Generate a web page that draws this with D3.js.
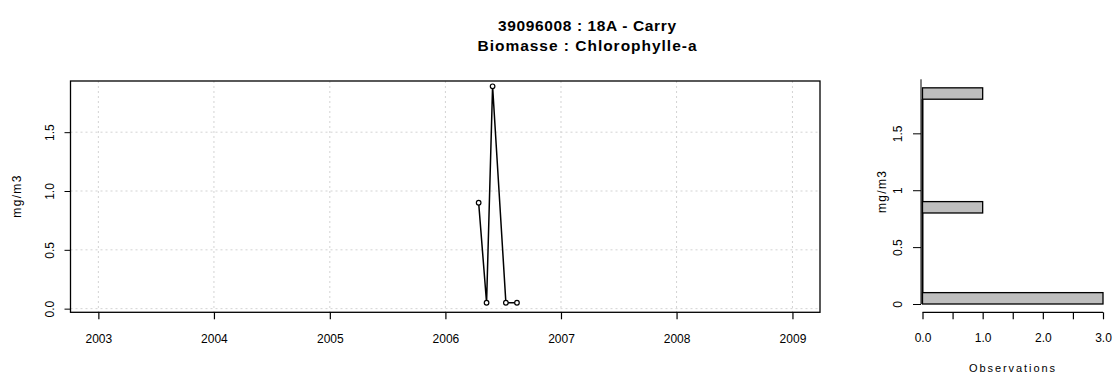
<!DOCTYPE html>
<html><head><meta charset="utf-8">
<script src="https://cdn.jsdelivr.net/npm/d3@7"></script>
<style>body{margin:0;background:#fff}svg{display:block;font-family:"Liberation Sans",Arial,sans-serif}</style>
</head><body><svg id="c" width="1115" height="378"></svg>
<script>
const titleLines = ["39096008 : 18A - Carry", "Biomasse : Chlorophylle-a"];
const sampleDates = ["2006-04-16", "2006-05-11", "2006-05-30", "2006-07-11", "2006-08-15"];
const sampleValues = [0.9, 0.05, 1.89, 0.05, 0.05];
const yearTicks = [2003, 2004, 2005, 2006, 2007, 2008, 2009];
const yTicks = [0, 0.5, 1.0, 1.5];
const yTickLabels = ["0.0", "0.5", "1.0", "1.5"];
const binLow = [0, 0.8, 1.8];
const binHigh = [0.1, 0.9, 1.9];
const binCounts = [3, 1, 1];
const histYTicks = [0, 0.5, 1, 1.5];
const histYTickLabels = ["0", "0.5", "1", "1.5"];
const histXTicks = [0, 0.5, 1, 1.5, 2, 2.5, 3];
const histXLabels = ["0.0", "1.0", "2.0", "3.0"];
const yLabel = "mg/m3";
const histXLabel = "Observations";

const svg = d3.select("#c");
const parse = d3.timeParse("%Y-%m-%d");
const FF = "Liberation Sans, Arial, sans-serif";

// Title
const titleWidths = [178, 219];
svg.append("g").selectAll("text").data(titleLines).join("text")
  .attr("x", 587).attr("y", (d, i) => 30.5 + i * 20)
  .attr("text-anchor", "middle").attr("font-weight", "bold").attr("font-size", 15.5)
  .attr("textLength", (d, i) => titleWidths[i]).attr("lengthAdjust", "spacing")
  .text(d => d);

// Main panel
const L = 70.5, R = 820, T = 81, B = 312.3;
const x = d3.scaleTime().domain([parse("2002-10-05"), parse("2009-03-29")]).range([L, R]);
const y = d3.scaleLinear().domain([-0.031, 1.935]).range([B, T]);
const main = svg.append("g");
const grid = main.append("g").attr("stroke", "#d3d3d3").attr("stroke-dasharray", "2,3").attr("stroke-width", 1);
grid.selectAll(".gx").data(yearTicks).join("line")
  .attr("x1", d => x(new Date(d, 0, 1))).attr("x2", d => x(new Date(d, 0, 1)))
  .attr("y1", T).attr("y2", B);
grid.selectAll(".gy").data(yTicks).join("line")
  .attr("x1", L).attr("x2", R).attr("y1", d => y(d)).attr("y2", d => y(d));

const xAxis = d3.axisBottom(x).tickValues(yearTicks.map(d => new Date(d, 0, 1)))
  .tickFormat(d3.timeFormat("%Y")).tickSize(7).tickPadding(15);
const gx = main.append("g").attr("transform", `translate(0,${B})`).call(xAxis);
gx.select(".domain").remove();
gx.selectAll("text").attr("font-size", 12).attr("font-family", FF);
gx.selectAll("line").attr("stroke-width", 1.2);

const yAxis = d3.axisLeft(y).tickValues(yTicks).tickFormat((d, i) => yTickLabels[i]).tickSize(6);
const gy = main.append("g").attr("transform", `translate(${L},0)`).call(yAxis);
gy.select(".domain").remove();
gy.selectAll("text").attr("font-size", 12).attr("font-family", FF)
  .attr("text-anchor", "middle").attr("transform", "rotate(-90)")
  .attr("x", 0).attr("y", -21).attr("dy", "0.35em");

main.append("rect").attr("x", L).attr("y", T).attr("width", R - L).attr("height", B - T)
  .attr("fill", "none").attr("stroke", "#000").attr("stroke-width", 1.3);

main.append("text").attr("transform", `translate(17,${(T + B) / 2}) rotate(-90)`)
  .attr("text-anchor", "middle").attr("dy", "0.35em").attr("font-size", 12)
  .attr("textLength", 42).attr("lengthAdjust", "spacing").text(yLabel);

const pts = sampleDates.map((d, i) => ({ t: parse(d), v: sampleValues[i] }));
main.append("path").datum(pts)
  .attr("d", d3.line().x(d => x(d.t)).y(d => y(d.v)))
  .attr("fill", "none").attr("stroke", "#000").attr("stroke-width", 1.5);
main.selectAll(".pt").data(pts).join("circle")
  .attr("cx", d => x(d.t)).attr("cy", d => y(d.v)).attr("r", 2.3)
  .attr("fill", "#fff").attr("stroke", "#000").attr("stroke-width", 1.2);

// Histogram panel
const hL = 921, hR = 1103, hT = 79.3, hB = 304;
const hx = d3.scaleLinear().domain([0, 3]).range([hL + 1.5, hR]);
const hy = d3.scaleLinear().domain([0, 1.975]).range([hB, hT]);
const hist = svg.append("g");
hist.append("line").attr("x1", hL).attr("x2", hL).attr("y1", hy(1.975)).attr("y2", hy(0))
  .attr("stroke", "#000").attr("stroke-width", 1);
hist.append("line").attr("x1", hx(0)).attr("x2", hx(0)).attr("y1", hy(0)).attr("y2", hy(binLow[2]))
  .attr("stroke", "#000").attr("stroke-width", 2);
hist.selectAll(".bar").data(binCounts).join("rect")
  .attr("x", hx(0)).attr("y", (d, i) => hy(binHigh[i]))
  .attr("width", d => hx(d) - hx(0)).attr("height", (d, i) => hy(binLow[i]) - hy(binHigh[i]))
  .attr("fill", "#bebebe").attr("stroke", "#000").attr("stroke-width", 1.3);

const hyAxis = d3.axisLeft(hy).tickValues(histYTicks).tickFormat((d, i) => histYTickLabels[i]).tickSize(8);
const ghy = hist.append("g").attr("transform", `translate(${hL},0)`).call(hyAxis);
ghy.select(".domain").remove();
ghy.selectAll("text").attr("font-size", 12).attr("font-family", FF)
  .attr("text-anchor", "middle").attr("transform", "rotate(-90)")
  .attr("x", 0).attr("y", -23).attr("dy", "0.35em");

const hxAxis = d3.axisBottom(hx).tickValues(histXTicks)
  .tickFormat(d => Number.isInteger(d) ? histXLabels[d] : "").tickSize(7).tickPadding(14).tickSizeOuter(0);
const ghx = hist.append("g").attr("transform", "translate(0,312.3)").call(hxAxis);
ghx.select(".domain").attr("d", `M${hx(0)},0H${hx(3)}`).attr("stroke-width", 1.2);
ghx.selectAll("text").attr("font-size", 12).attr("font-family", FF);
ghx.selectAll("line").attr("stroke-width", 1.2);

hist.append("text").attr("x", 1012).attr("y", 372).attr("text-anchor", "middle")
  .attr("font-size", 11).attr("textLength", 86).attr("lengthAdjust", "spacing").text(histXLabel);
hist.append("text").attr("transform", `translate(882,192) rotate(-90)`)
  .attr("text-anchor", "middle").attr("dy", "0.35em").attr("font-size", 12)
  .attr("textLength", 42).attr("lengthAdjust", "spacing").text(yLabel);
</script></body></html>
